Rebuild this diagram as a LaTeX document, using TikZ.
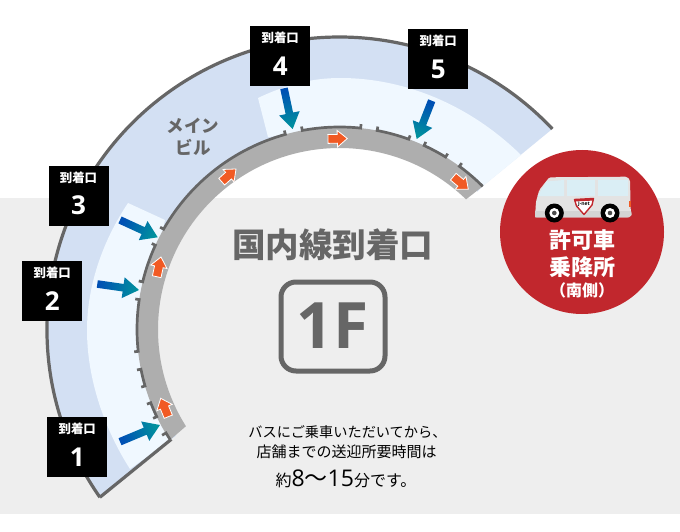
\documentclass[tikz,border=0pt]{standalone}
\usepackage{fontspec}
\setmainfont{Noto Sans CJK JP}
\newfontfamily\latinnum{Open Sans}
\definecolor{bggray}{HTML}{EEEEEE}
\definecolor{band}{HTML}{D3E0F3}
\definecolor{pale}{HTML}{F0F8FF}
\definecolor{ring}{HTML}{AEAEAE}
\definecolor{dark}{HTML}{666666}
\definecolor{redc}{HTML}{C1272D}
\definecolor{orng}{HTML}{F15A24}
\definecolor{arrowblue}{HTML}{0050B4}
\definecolor{arrowteal}{HTML}{00919E}
\definecolor{vanbody}{HTML}{E3E3E3}
\definecolor{vanglass}{HTML}{DAEEF5}
\newcommand{\fs}[1]{\fontsize{#1}{#1}\selectfont}
\tikzset{
  gatebox/.style={fill=black,minimum width=60pt,minimum height=60pt,inner sep=0pt,anchor=north west},
  gatetext/.style={text=white,inner sep=0pt,font=\bfseries\fs{12.4}},
  gatenum/.style={text=white,inner sep=0pt,font=\latinnum\bfseries\fs{26}},
  wall/.style={draw=dark,line width=3.2pt},
  tickline/.style={draw=dark,line width=2.7pt},
  lbl/.style={inner sep=0pt},
}
\newcommand{\seg}[2]{\draw[tickline] ([shift={(C)}]#1:206.5) -- ([shift={(C)}]#1:202.5) arc[start angle=#1,end angle=#2,radius=202.5] -- ([shift={(C)}]#2:206.5);}
\newcommand{\garrow}[4]{%
  \pgfmathsetmacro{\al}{atan2(-(#4)+(#2),(#3)-(#1))}%
  \pgfmathsetmacro{\ll}{veclen((#3)-(#1),(#4)-(#2))}%
  \pgfmathsetmacro{\sa}{\al-90}%
  \shade[top color=arrowteal,bottom color=arrowblue,shading angle=\sa,shift={(#1,-#2)},rotate=\al]
    (0,-3.8) -- (\ll-16,-3.8) -- (\ll-16,-10.5) -- (\ll,0) -- (\ll-16,10.5) -- (\ll-16,3.8) -- (0,3.8) -- cycle;}
\newcommand{\oarrow}[4]{%
  \pgfmathsetmacro{\al}{atan2(-(#4)+(#2),(#3)-(#1))}%
  \pgfmathsetmacro{\ll}{veclen((#3)-(#1),(#4)-(#2))}%
  \draw[fill=orng,draw=white,line width=.8pt,line join=miter,shift={(#1,-#2)},rotate=\al]
    (0,-4.4) -- (\ll-10,-4.4) -- (\ll-10,-8.3) -- (\ll,0) -- (\ll-10,8.3) -- (\ll-10,4.4) -- (0,4.4) -- cycle;}
\begin{document}
\begin{tikzpicture}[x=1pt,y=1pt]
\useasboundingbox (0,0) rectangle (680,-532);
\coordinate (C) at (339.5,-329.5);
\fill[white] (0,0) rectangle (680,-532);
\fill[bggray] (0,-198) rectangle (680,-514);
% main band
\fill[band] ([shift={(C)}]215:292.5) arc[start angle=215,end angle=43.3,radius=292.5]
  -- (482.7,-186) -- ([shift={(C)}]45:195) arc[start angle=45,end angle=213,radius=195] -- (171.3,-439.3) -- cycle;
% pale zones
\fill[pale] (128,-203) .. controls (100,-245) and (87,-290) .. (87,-330)
  .. controls (87,-380) and (105,-430) .. (130,-469) -- (171.3,-439.3) -- (140,-330) -- (165,-220) -- cycle;
\fill[pale] (258,-98) .. controls (285,-85) and (312,-78) .. (340,-78)
  .. controls (405,-78) and (470,-105) .. (521,-155) -- (483,-186) -- (400,-140) -- (340,-130) -- (268,-137) -- cycle;
% walls
\draw[wall,line join=miter] ([shift={(C)}]215:292.5) arc[start angle=215,end angle=43.3,radius=292.5];
\draw[wall] ([shift={(C)}]215:292.5) -- (171.3,-439.3);
% gray ring
\fill[ring] ([shift={(C)}]213.1:202.5) arc[start angle=213.1,end angle=45,radius=202.5]
  -- ([shift={(C)}]45.8:181.5) arc[start angle=45.8,end angle=212.2,radius=181.5] -- cycle;
% door segments
\draw[tickline] ([shift={(C)}]213.1:202) arc[start angle=213.1,end angle=210.8,radius=202] -- ([shift={(C)}]210.8:206.5);
\seg{205.5}{201.2}
\seg{196.2}{191.3}
\seg{186.2}{171.5}
\seg{166.4}{155.4}
\seg{150.3}{105.5}
\seg{100.6}{84}
\seg{79.3}{70}
\seg{65.3}{58.4}
\draw[tickline] ([shift={(C)}]53.7:206.5) -- ([shift={(C)}]53.7:202.5) arc[start angle=53.7,end angle=45,radius=202.5];
% blue arrows
\garrow{120}{441.7}{160}{425}
\garrow{97.3}{284}{139}{290}
\garrow{120}{220}{157.7}{237.3}
\garrow{284}{88.3}{292.7}{129}
\garrow{431.7}{100.7}{416.7}{139}
% orange arrows
\oarrow{168.3}{416.7}{160.7}{398.3}
\oarrow{156.7}{276.7}{161}{257}
\oarrow{221.7}{181.7}{236}{169}
\oarrow{328}{139}{347.3}{138.5}
\oarrow{453.3}{176.7}{468.3}{189.3}
% gates
\node[gatebox] (g1) at (47,-417) {};
\node[gatetext] at ([yshift=-12pt]g1.north) {到着口};
\node[gatenum] at ([yshift=-40pt]g1.north) {1};
\node[gatebox] (g2) at (22,-261) {};
\node[gatetext] at ([yshift=-12pt]g2.north) {到着口};
\node[gatenum] at ([yshift=-40pt]g2.north) {2};
\node[gatebox] (g3) at (48.3,-165.3) {};
\node[gatetext] at ([yshift=-12pt]g3.north) {到着口};
\node[gatenum] at ([yshift=-40pt]g3.north) {3};
\node[gatebox] (g4) at (250,-26) {};
\node[gatetext] at ([yshift=-12pt]g4.north) {到着口};
\node[gatenum] at ([yshift=-40pt]g4.north) {4};
\node[gatebox] (g5) at (408,-29) {};
\node[gatetext] at ([yshift=-12pt]g5.north) {到着口};
\node[gatenum] at ([yshift=-40pt]g5.north) {5};
% building label
\node[lbl,text=dark,font=\bfseries\fs{17.5}] (m1) at (193,-126) {メイン};
\node[lbl,text=dark,font=\bfseries\fs{17.5}] (m2) at (193,-147) {ビル};
% title
\node[lbl,text=dark,font=\bfseries\fs{33.5}] (title) at (332.5,-245) {国内線到着口};
\draw[dark,line width=5pt,rounded corners=15pt] (281,-282) rectangle (385,-371);
\node[lbl,text=dark,font=\latinnum\bfseries\fs{64}] (floor) at (332.5,-326) {1F};
% note
\node[lbl,text=black,font=\fs{14.2}] (n1) at (347.5,-432) {バスにご乗車いただいてから、};
\node[lbl,text=black,font=\fs{15}] (n2) at (346.5,-452) {店舗までの送迎所要時間は};
\node[lbl,text=black,font=\fs{16}] (n3) at (346,-479) {約{\latinnum\fs{23}8}{\fs{23}〜}{\latinnum\fs{23}15}分です。};
% red circle
\fill[redc] (582,-232) circle[radius=82];
% van
\fill[vanbody,rounded corners=1.5pt] (535,-217.3) -- (536,-201.7) -- (539.3,-190) -- (549.3,-177.3) -- (626.7,-176.7) -- (630,-180) -- (630.7,-210) -- (631.7,-215) -- (629,-217.3) -- cycle;
\fill[black!17] (535.2,-211) -- (631,-211) -- (631.7,-215) -- (629,-217.3) -- (535,-217.3) -- cycle;
\fill[vanglass] (537.5,-196) -- (546.7,-181.5) -- (564,-180) -- (564,-196) -- cycle;
\fill[vanglass] (567,-180) rectangle (595,-196);
\fill[vanglass] (597.7,-180) rectangle (628.3,-196);
\fill[orng] (628.7,-201) rectangle (630.6,-207);
\foreach \wx in {554.3,610}{
  \fill[black] (\wx,-213) circle[radius=9.5];
  \fill[white] (\wx,-213) circle[radius=5];
  \fill[black!70] (\wx,-213) circle[radius=2.3];
}
\draw[redc,fill=white,line width=1.4pt,line join=round] (574.5,-199.5) -- (593.5,-198.5) -- (592,-205) -- (584,-214.5) -- (576.5,-206) -- cycle;
\fill[redc] (574.5,-199.5) -- (593.5,-198.5) -- (593,-200.6) -- (575,-201.4) -- cycle;
\node[lbl,font=\latinnum\bfseries\fs{5},text=black] (logo) at (584,-204) {J-net};
% red circle text
\node[lbl,text=white,font=\bfseries\fs{22}] (r1) at (582,-240) {許可車};
\node[lbl,text=white,font=\bfseries\fs{22}] (r2) at (582,-267) {乗降所};
\node[lbl,text=white,font=\bfseries\fs{16}] (r3) at (582,-290) {（南側）};
\end{tikzpicture}
\end{document}
